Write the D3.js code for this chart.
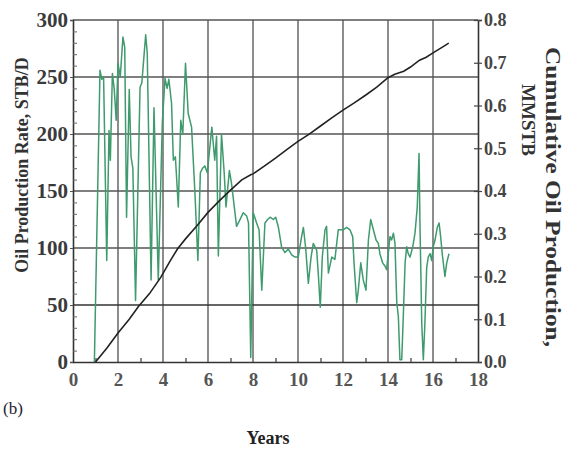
<!DOCTYPE html>
<html>
<head>
<script src="https://d3js.org/d3.v7.min.js"></script>
<style type="text/css">
  body { margin: 0; background: #fff; }
  svg { display: block; }
  text { font-family: 'Liberation Serif', 'Times New Roman', serif; font-weight: bold; }
</style>
</head>
<body>
<script type="text/javascript">

// oil production rate, STB/D
var rateYears = [0.95,1.2,1.28,1.36,1.5,1.6,1.66,1.75,1.83,1.92,2.0,2.1,2.22,2.3,2.38,2.5,2.58,2.66,2.78,2.98,3.06,3.23,3.3,3.47,3.6,3.79,3.97,4.09,4.18,4.26,4.38,4.46,4.55,4.68,4.79,4.88,5.0,5.12,5.27,5.42,5.55,5.66,5.76,5.86,5.97,6.17,6.3,6.38,6.46,6.6,6.72,6.8,6.95,7.05,7.27,7.4,7.57,7.72,7.8,7.9,8.01,8.16,8.27,8.39,8.53,8.65,8.76,8.9,9.01,9.13,9.27,9.42,9.57,9.72,9.87,10.01,10.16,10.24,10.34,10.46,10.58,10.68,10.83,10.9,10.99,11.08,11.2,11.27,11.35,11.5,11.64,11.79,11.87,12.01,12.16,12.31,12.43,12.49,12.61,12.68,12.79,12.9,13.02,13.13,13.23,13.35,13.47,13.57,13.64,13.76,13.87,13.94,14.01,14.09,14.16,14.24,14.31,14.39,14.46,14.53,14.61,14.68,14.76,14.83,14.9,14.98,15.1,15.2,15.3,15.38,15.42,15.5,15.57,15.64,15.72,15.79,15.87,15.94,16.01,16.09,16.19,16.27,16.34,16.41,16.53,16.61,16.71];
var rateValues = [0,256,248,250,89,203,177,253,240,212,262,250,285,276,127,239,180,170,54,241,245,287,271,72,223,72,210,249,240,248,227,177,180,136,212,200,262,218,206,148,89,166,170,172,166,206,177,198,93,200,166,136,168,156,119,124,131,128,122,4,131,122,116,63,122,125,127,125,127,118,101,96,99,94,92,92,110,118,100,69,92,104,98,78,48,92,116,119,78,92,90,116,116,116,118,116,110,87,52,63,87,72,63,107,125,116,107,104,95,87,84,81,95,110,107,113,104,52,40,2,2,40,87,101,95,92,101,113,136,183,122,34,2,34,83,92,95,89,101,107,118,122,110,95,75,87,95];

// cumulative oil production, MMSTB
var cumYears = [1.0,1.5,2.0,2.5,2.9,3.4,3.9,4.3,4.65,5.0,5.5,6.0,6.5,7.0,7.5,7.9,8.0,8.5,9.0,9.5,10.0,10.5,11.0,11.5,12.0,12.5,13.0,13.5,14.0,14.3,14.7,15.0,15.4,15.7,16.0,16.4,16.7];
var cumValues = [0,0.032,0.068,0.1,0.129,0.16,0.198,0.235,0.265,0.288,0.318,0.35,0.377,0.402,0.426,0.438,0.44,0.458,0.477,0.497,0.516,0.533,0.552,0.571,0.589,0.606,0.624,0.643,0.665,0.673,0.68,0.69,0.706,0.713,0.723,0.736,0.746];

var xTicks = [0,2,4,6,8,10,12,14,16,18];
var rateTicks = [0,50,100,150,200,250,300];
var cumTicks = [0,0.1,0.2,0.3,0.4,0.5,0.6,0.7,0.8];

var margin = {top: 20, left: 73, right: 90, bottom: 89};
var width = 568 - margin.left - margin.right;
var height = 451 - margin.top - margin.bottom;

var svg = d3.select("body").append("svg")
    .attr("width", 568)
    .attr("height", 451);

var g = svg.append("g")
    .attr("transform", "translate(" + margin.left + "," + margin.top + ")");

var x = d3.scaleLinear().domain([0, 18]).range([0, width]);
var yRate = d3.scaleLinear().domain([0, 300]).range([height, 0]);
var yCum = d3.scaleLinear().domain([0, 0.8]).range([height, 0]);

// grid
g.selectAll(".vgrid")
    .data(xTicks.slice(1, -1))
  .enter().append("line")
    .attr("x1", function(d) { return x(d); })
    .attr("x2", function(d) { return x(d); })
    .attr("y1", 0).attr("y2", height)
    .attr("stroke", "#707070").attr("stroke-width", 1.6);

g.selectAll(".hgrid")
    .data(rateTicks.slice(1, -1))
  .enter().append("line")
    .attr("x1", 0).attr("x2", width)
    .attr("y1", function(d) { return yRate(d); })
    .attr("y2", function(d) { return yRate(d); })
    .attr("stroke", function(d) { return d == 50 ? "#333" : "#555"; })
    .attr("stroke-width", 1.6);

// frame lines
g.append("line").attr("x1", 0).attr("x2", width).attr("y1", 0).attr("y2", 0)
    .attr("stroke", "#555").attr("stroke-width", 1.4);

// left axis
var leftAxis = g.append("g")
    .call(d3.axisLeft(yRate).tickValues(rateTicks).tickSize(3).tickPadding(2));
leftAxis.select(".domain").attr("stroke", "#333").attr("stroke-width", 1.6);
leftAxis.selectAll(".tick line").attr("stroke", "#555");
leftAxis.selectAll("text")
    .attr("font-size", 21).attr("fill", "#3a3a3a")
    .style("font-family", "'Liberation Serif', serif").style("font-weight", "bold");

g.append("g")
    .call(d3.axisRight(yRate).tickValues(d3.range(10, 300, 10).filter(function(d) { return d % 50 != 0; }))
      .tickSize(4).tickFormat(""))
  .call(function(s) { s.select(".domain").remove(); s.selectAll("line").attr("stroke", "#666"); });

// bottom axis
var bottomAxis = g.append("g")
    .attr("transform", "translate(0," + height + ")")
    .call(d3.axisBottom(x).tickValues(xTicks).tickSize(0).tickPadding(11));
bottomAxis.select(".domain").attr("stroke", "#333").attr("stroke-width", 1.6);
bottomAxis.selectAll("text")
    .attr("font-size", 19).attr("fill", "#555")
    .style("font-family", "'Liberation Serif', serif").style("font-weight", "bold");

g.append("g")
    .attr("transform", "translate(0," + height + ")")
    .call(d3.axisTop(x).tickValues(d3.range(1, 18, 2)).tickSize(4).tickFormat(""))
  .call(function(s) { s.select(".domain").remove(); s.selectAll("line").attr("stroke", "#555").attr("stroke-width", 1.4); });

// right axis
var rightAxis = g.append("g")
    .attr("transform", "translate(" + width + ",0)")
    .call(d3.axisRight(yCum).tickValues(cumTicks).tickSize(4).tickPadding(2).tickFormat(d3.format(".1f")));
rightAxis.select(".domain").attr("stroke", "#333").attr("stroke-width", 1.6);
rightAxis.selectAll(".tick line").attr("x1", -4).attr("stroke", "#444").attr("stroke-width", 1.2);
rightAxis.selectAll("text")
    .attr("font-size", 18).attr("fill", "#444")
    .style("font-family", "'Liberation Serif', serif").style("font-weight", "bold");

// series
var rateLine = d3.line()
    .x(function(d, i) { return x(rateYears[i]); })
    .y(function(d) { return yRate(d); });

g.append("path")
    .datum(rateValues)
    .attr("d", rateLine)
    .attr("fill", "none")
    .attr("stroke", "#3f9a6e")
    .attr("stroke-width", 1.5)
    .attr("stroke-linejoin", "round");

var cumLine = d3.line()
    .x(function(d, i) { return x(cumYears[i]); })
    .y(function(d) { return yCum(d); });

g.append("path")
    .datum(cumValues)
    .attr("d", cumLine)
    .attr("fill", "none")
    .attr("stroke", "#222")
    .attr("stroke-width", 1.6);

// titles
svg.append("text")
    .attr("transform", "translate(28,165) rotate(-90)")
    .attr("text-anchor", "middle")
    .attr("font-size", 18).attr("fill", "#333")
    .text("Oil Production Rate, STB/D");

svg.append("text")
    .attr("transform", "translate(546,197) rotate(90)")
    .attr("text-anchor", "middle")
    .attr("font-size", 20).attr("fill", "#333")
    .attr("textLength", 300).attr("lengthAdjust", "spacingAndGlyphs")
    .text("Cumulative Oil Production,");

svg.append("text")
    .attr("transform", "translate(522,120) rotate(90)")
    .attr("text-anchor", "middle")
    .attr("font-size", 19).attr("fill", "#333")
    .text("MMSTB");

svg.append("text")
    .attr("x", 268).attr("y", 444)
    .attr("text-anchor", "middle")
    .attr("font-size", 18).attr("fill", "#222")
    .text("Years");

svg.append("text")
    .attr("x", 3).attr("y", 414)
    .attr("font-size", 17).attr("fill", "#223")
    .style("font-weight", "normal")
    .text("(b)");

</script>
</body>
</html>
